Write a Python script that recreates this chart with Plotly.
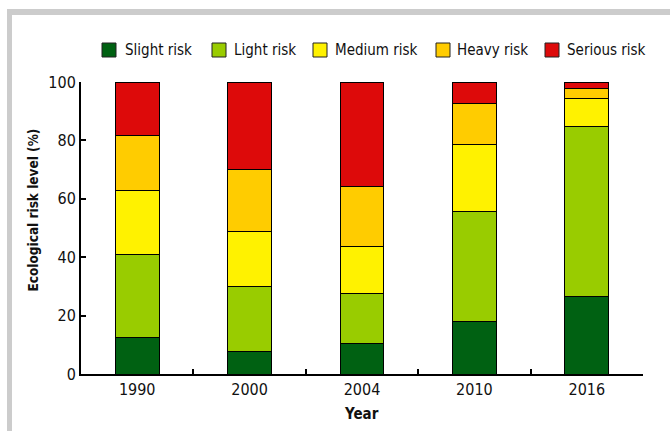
import plotly.graph_objects as go

years = ["1990", "2000", "2004", "2010", "2016"]
series_names = ["Slight risk", "Light risk", "Medium risk", "Heavy risk", "Serious risk"]
slight = [12.6, 7.6, 10.3, 17.9, 26.7]
light = [28.4, 22.2, 17.3, 37.7, 58.2]
medium = [22.0, 18.9, 16.0, 23.1, 9.3]
heavy = [18.6, 21.4, 20.6, 13.9, 3.5]
serious = [18.4, 29.9, 35.8, 7.4, 2.3]
colors = ["#006112", "#99cc00", "#fff200", "#ffcc00", "#dd0a0a"]
yticks = [0, 20, 40, 60, 80, 100]

FONT = "DejaVu Sans Condensed, Liberation Sans Narrow, sans-serif"
TXT = "#111111"

fig = go.Figure()
for name, vals, col in zip(series_names, [slight, light, medium, heavy, serious], colors):
    fig.add_trace(go.Bar(
        x=years, y=vals, name=name,
        marker=dict(color=col, line=dict(color="#000000", width=1)),
        width=0.39, showlegend=False,
    ))

W, H = 670, 431
L, R, T, B = 81, 27, 82, 57
pw, ph = W - L - R, H - T - B

def px(x):
    return (x - L) / pw

def py(y):
    return (H - B - y) / ph

# legend drawn as real text + swatches
leg_sq_x = [102, 212, 313, 436, 545]
leg_tx_x = [123, 232, 333, 455, 565]
shapes = [
    dict(type="rect", xref="paper", yref="paper", x0=px(7), x1=px(680), y0=py(15), y1=py(9),
         fillcolor="#cccccc", line=dict(width=0), layer="above"),
    dict(type="rect", xref="paper", yref="paper", x0=px(7), x1=px(12), y0=py(440), y1=py(9),
         fillcolor="#cccccc", line=dict(width=0), layer="above"),
]
annotations = [
    dict(text="<b>Ecological risk level (%)</b>", xref="paper", yref="paper",
         x=px(32.5), y=py(210), textangle=-90, showarrow=False,
         font=dict(family=FONT, size=13.5, color=TXT), xanchor="center", yanchor="middle"),
    dict(text="<b>Year</b>", xref="paper", yref="paper",
         x=px(361), y=py(414), showarrow=False,
         font=dict(family=FONT, size=15, color=TXT), xanchor="center", yanchor="middle"),
]
for name, col, sx, tx in zip(series_names, colors, leg_sq_x, leg_tx_x):
    shapes.append(dict(type="rect", xref="paper", yref="paper",
                       x0=px(sx), x1=px(sx + 14), y0=py(57), y1=py(43),
                       fillcolor=col, line=dict(color="#222222", width=1)))
    annotations.append(dict(text=name, xref="paper", yref="paper", x=px(tx), y=py(50),
                            xanchor="left", yanchor="middle", showarrow=False,
                            font=dict(family=FONT, size=15, color=TXT)))

fig.update_layout(
    width=W, height=H,
    barmode="stack",
    margin=dict(l=L, r=R, t=T, b=B),
    paper_bgcolor="white", plot_bgcolor="white",
    font=dict(family=FONT, size=16, color=TXT),
    showlegend=False,
    xaxis=dict(
        type="category", showline=True, linecolor="black", linewidth=2,
        ticks="inside", tickson="boundaries", ticklen=5, tickwidth=1.5, tickcolor="black",
        showgrid=False, zeroline=False,
        tickfont=dict(family=FONT, size=16, color=TXT),
        range=[-0.5, 4.5],
    ),
    yaxis=dict(
        range=[0, 100], tickvals=yticks, showline=True, linecolor="black", linewidth=2,
        ticks="inside", ticklen=5, tickwidth=1.5, tickcolor="black",
        showgrid=False, zeroline=False,
        tickfont=dict(family=FONT, size=16, color=TXT),
    ),
    shapes=shapes,
    annotations=annotations,
)

fig.write_html("out.html", config={"displayModeBar": False},
               post_script="document.body.style.margin='0px';")
